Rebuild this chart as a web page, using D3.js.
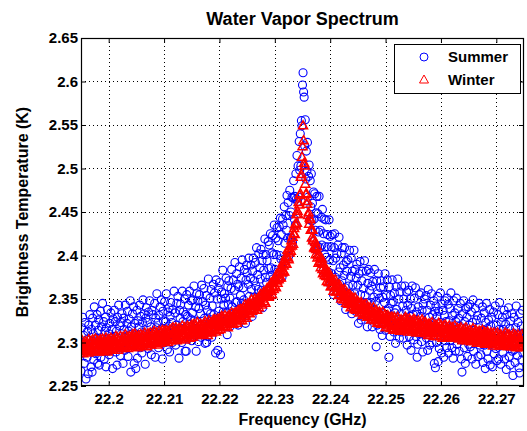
<!DOCTYPE html>
<html>
<head>
<meta charset="utf-8">
<title>Water Vapor Spectrum</title>
<script src="https://d3js.org/d3.v7.min.js"></script>
<style>
    body { margin: 0; background: #fff; }
    #container { width: 527px; height: 431px; }
    text { font-family: 'Liberation Sans', Arial, Helvetica, sans-serif; font-weight: bold; fill: #000; }
</style>
</head>
<body>
<div id="container"></div>
<script>
/* spectrometer channel grid */
const channelStart = 22.195;   // GHz
const channelStep = 0.0001;    // GHz

/* brightness temperature per channel, in mK */
const summerMilliK = [
    2267,2317,2300,2329,2288,2308,2276,2323,2296,2258,2303,2283,2313,2264,2320,2293,2332,2299,2272,2315,
    2266,2328,2310,2280,2341,2298,2320,2287,2305,2332,2276,2314,2326,2274,2304,2336,2283,2318,2300,2345,
    2297,2324,2281,2313,2329,2272,2317,2304,2338,2290,2310,2286,2322,2302,2334,2295,2315,2270,2327,2307,
    2337,2301,2324,2289,2313,2274,2329,2305,2343,2294,2319,2285,2323,2310,2333,2298,2276,2328,2315,2291,
    2343,2305,2294,2322,2336,2284,2313,2327,2301,2348,2266,2318,2310,2333,2298,2341,2276,2322,2305,2270,
    2308,2337,2282,2325,2300,2318,2343,2294,2330,2312,2288,2323,2349,2305,2333,2310,2275,2328,2340,2298,
    2323,2293,2335,2307,2348,2302,2318,2286,2337,2312,2332,2299,2312,2345,2283,2328,2317,2356,2305,2323,
    2294,2331,2311,2341,2303,2349,2316,2281,2336,2325,2310,2347,2300,2324,2356,2314,2292,2335,2319,2340,
    2289,2330,2346,2310,2323,2300,2338,2316,2359,2304,2334,2297,2320,2345,2310,2353,2315,2282,2337,2328,
    2344,2316,2300,2359,2324,2335,2307,2350,2290,2332,2290,2355,2330,2304,2343,2321,2359,2311,2327,2348,
    2302,2334,2349,2316,2365,2325,2309,2341,2290,2356,2324,2348,2301,2339,2355,2315,2333,2306,2366,2321,
    2347,2312,2362,2328,2299,2343,2354,2300,2337,2307,2373,2327,2317,2351,2333,2361,2306,2342,2321,2367,
    2332,2357,2314,2288,2372,2324,2350,2291,2362,2336,2369,2330,2286,2350,2358,2324,2383,2335,2343,2356,
    2322,2351,2374,2334,2309,2364,2344,2371,2329,2351,2319,2362,2384,2341,2334,2372,2325,2360,2392,2346,
    2334,2379,2347,2367,2320,2364,2387,2334,2354,2374,2345,2395,2331,2363,2349,2384,2344,2322,2372,2389,
    2380,2340,2367,2397,2353,2338,2374,2389,2361,2330,2382,2397,2352,2371,2339,2392,2365,2409,2352,2378,
    2361,2402,2344,2386,2373,2407,2360,2394,2340,2401,2383,2358,2419,2375,2401,2369,2394,2354,2416,2385,
    2412,2375,2425,2386,2354,2403,2423,2373,2401,2435,2384,2372,2420,2401,2432,2381,2417,2374,2433,2400,
    2443,2396,2424,2375,2442,2435,2393,2456,2414,2394,2446,2429,2469,2420,2461,2399,2446,2475,2420,2450,
    2420,2467,2415,2466,2486,2442,2468,2435,2494,2465,2515,2462,2503,2467,2531,2498,2540,2503,2555,2549,2596,2610,
    2588,2582,2526,2556,2488,2520,2497,2530,2467,2491,2504,2441,2486,2456,2494,2440,2460,2416,2473,2442,
    2471,2429,2407,2449,2468,2411,2448,2427,2468,2409,2429,2396,2444,2412,2453,2382,2425,2442,2401,2410,
    2441,2398,2378,2424,2410,2381,2441,2395,2422,2366,2410,2379,2424,2394,2355,2409,2425,2375,2397,2363,
    2402,2358,2412,2381,2421,2367,2386,2348,2402,2371,2409,2358,2389,2377,2409,2363,2338,2393,2382,2349,
    2395,2365,2345,2406,2356,2376,2397,2333,2382,2366,2348,2406,2356,2384,2336,2374,2390,2346,2366,2322,
    2379,2338,2393,2355,2326,2371,2382,2346,2362,2330,2394,2354,2339,2382,2346,2318,2368,2384,2332,2360,
    2336,2380,2346,2365,2318,2370,2326,2352,2384,2337,2347,2295,2371,2320,2356,2379,2331,2351,2315,2363,
    2371,2334,2308,2352,2364,2323,2346,2379,2314,2354,2336,2372,2325,2339,2283,2364,2307,2354,2345,2317,
    2372,2325,2347,2312,2357,2334,2299,2364,2338,2318,2373,2327,2350,2305,2358,2333,2312,2365,2323,2342,
    2305,2350,2327,2365,2315,2337,2358,2297,2343,2319,2360,2307,2330,2350,2291,2339,2365,2314,2332,2303,
    2351,2319,2363,2307,2335,2283,2298,2341,2323,2355,2310,2330,2357,2301,2337,2289,2344,2318,2350,2312,
    2320,2354,2305,2337,2291,2361,2309,2329,2297,2343,2320,2356,2300,2332,2313,2348,2276,2336,2271,2342,
    2300,2330,2353,2278,2336,2293,2323,2357,2308,2288,2344,2315,2337,2283,2331,2348,2302,2324,2294,2351,
    2310,2344,2288,2325,2339,2302,2357,2314,2294,2331,2282,2348,2317,2334,2290,2324,2351,2298,2309,2339,
    2328,2290,2319,2345,2303,2281,2266,2333,2308,2348,2294,2324,2276,2339,2312,2329,2284,2341,2298,2320,
    2344,2295,2308,2335,2281,2323,2349,2290,2314,2302,2339,2275,2326,2308,2331,2284,2317,2345,2297,2311,
    2286,2328,2303,2341,2277,2314,2334,2297,2270,2323,2345,2290,2316,2281,2326,2307,2338,2274,2319,2298,
    2329,2272,2300,2335,2287,2310,2342,2293,2320,2279,2304,2332,2281,2315,2346,2296,2275,2323,2307,2329,
    2288,2315,2337,2281,2304,2321,2269,2332,2296,2309,2340,2284,2316,2274,2325,2299,2333,2290,2262,2311,
    2329,2292,2277,2317,2342,2300,2285,2323,2309,2271,2265,2333,2296,2319,2280,2337,2288,2311
];

const winterMilliK = [
    2298,2290,2302,2293,2287,2299,2296,2291,2301,2289,2297,2300,2292,2288,2303,2294,2298,2290,2301,2293,
    2292,2303,2297,2290,2299,2294,2304,2291,2298,2289,2302,2294,2289,2301,2297,2303,2293,2299,2291,2304,
    2296,2290,2302,2299,2292,2305,2294,2301,2289,2298,2303,2296,2292,2301,2305,2294,2298,2291,2303,2295,
    2303,2293,2301,2307,2295,2298,2305,2291,2302,2296,2295,2307,2301,2293,2304,2298,2306,2296,2302,2294,
    2309,2298,2295,2306,2301,2293,2304,2307,2297,2303,2295,2306,2301,2309,2297,2304,2299,2310,2296,2303,
    2307,2297,2305,2294,2308,2300,2303,2296,2309,2299,2307,2296,2305,2308,2299,2311,2302,2298,2306,2295,
    2302,2310,2298,2307,2300,2311,2304,2297,2308,2303,2310,2302,2313,2299,2307,2300,2311,2303,2297,2308,
    2302,2313,2305,2299,2311,2308,2301,2314,2303,2307,2313,2301,2310,2305,2314,2304,2312,2300,2310,2307,
    2314,2306,2302,2315,2310,2304,2317,2307,2312,2303,2312,2317,2306,2302,2314,2310,2304,2316,2308,2315,
    2304,2314,2310,2319,2306,2313,2308,2317,2303,2315,2313,2306,2319,2310,2317,2308,2315,2305,2318,2311,
    2320,2310,2306,2317,2321,2312,2314,2308,2319,2311,2323,2310,2317,2314,2308,2319,2321,2312,2316,2309,
    2319,2309,2321,2314,2324,2312,2317,2311,2322,2308,2315,2325,2320,2312,2322,2317,2311,2323,2314,2326,
    2322,2315,2326,2317,2312,2324,2319,2327,2314,2323,2327,2318,2315,2323,2330,2321,2329,2318,2326,2320,
    2331,2318,2325,2328,2321,2317,2330,2323,2331,2325,2321,2329,2334,2322,2328,2321,2332,2327,2334,2325,
    2334,2327,2322,2332,2337,2327,2332,2325,2338,2328,2337,2325,2335,2339,2332,2330,2343,2332,2338,2328,
    2339,2344,2334,2337,2345,2333,2343,2338,2349,2336,2342,2338,2347,2337,2350,2342,2341,2348,2337,2350,
    2348,2340,2351,2345,2355,2345,2352,2343,2355,2350,2358,2347,2355,2345,2358,2356,2362,2353,2360,2352,
    2362,2354,2362,2368,2359,2355,2368,2364,2361,2372,2365,2371,2363,2378,2371,2368,2378,2372,2382,2374,
    2382,2374,2386,2380,2391,2381,2388,2381,2393,2390,2399,2390,2398,2406,2397,2395,2408,2403,2410,2405,
    2417,2411,2421,2413,2425,2431,2424,2436,2434,2447,2437,2451,2447,2461,2458,2469,2471,2490,2493,2513,2525,2549,
    2532,2506,2503,2482,2470,2471,2459,2462,2446,2449,2436,2443,2441,2429,2430,2420,2429,2417,2419,2409,
    2408,2415,2401,2407,2410,2397,2401,2391,2400,2393,2398,2386,2392,2396,2384,2379,2390,2381,2377,2383,
    2384,2376,2370,2380,2376,2369,2380,2369,2373,2364,2375,2364,2370,2366,2359,2370,2363,2372,2358,2365,
    2358,2367,2359,2354,2362,2366,2355,2358,2350,2360,2353,2360,2349,2356,2361,2349,2352,2345,2357,2347,
    2354,2344,2351,2355,2345,2340,2352,2346,2342,2351,2344,2347,2338,2351,2341,2337,2346,2339,2347,2337,
    2344,2334,2345,2338,2346,2335,2340,2331,2342,2337,2343,2332,2338,2344,2333,2329,2340,2333,2337,2330,
    2340,2330,2326,2337,2333,2327,2340,2329,2334,2325,2332,2337,2326,2322,2333,2329,2323,2335,2326,2333,
    2321,2330,2326,2335,2322,2328,2323,2332,2317,2329,2326,2319,2331,2322,2329,2320,2326,2316,2329,2322,
    2329,2319,2314,2325,2329,2320,2322,2315,2326,2318,2329,2316,2323,2319,2313,2324,2326,2317,2321,2314,
    2325,2315,2327,2319,2329,2317,2322,2316,2326,2312,2317,2327,2322,2314,2324,2318,2312,2324,2315,2327,
    2321,2314,2325,2316,2311,2323,2318,2325,2312,2321,2323,2314,2311,2319,2326,2316,2323,2312,2320,2314,
    2323,2310,2317,2320,2313,2308,2321,2313,2321,2315,2310,2318,2323,2311,2316,2307,2318,2313,2320,2311,
    2319,2312,2307,2317,2322,2310,2315,2307,2320,2310,2317,2305,2315,2319,2311,2307,2320,2309,2315,2305,
    2316,2306,2314,2319,2309,2305,2317,2311,2307,2317,2309,2314,2305,2319,2310,2305,2314,2307,2316,2306,
    2313,2304,2315,2308,2317,2306,2311,2302,2313,2308,2315,2304,2311,2317,2305,2302,2313,2306,2311,2304,
    2314,2305,2301,2312,2309,2303,2316,2306,2311,2302,2309,2314,2303,2299,2311,2307,2301,2313,2305,2312,
    2299,2309,2305,2314,2301,2308,2303,2312,2298,2310,2306,2299,2312,2303,2310,2301,2308,2298,2311,2304,
    2310,2300,2296,2307,2311,2302,2304,2298,2309,2301,2311,2298,2305,2302,2296,2307,2309,2300,2304,2297,
    2306,2296,2308,2301,2311,2299,2304,2298,2309,2295,2299,2309,2304,2296,2306,2301,2295,2307,2298,2310,
    2304,2297,2308,2299,2294,2306,2301,2309,2296,2304,2306,2297,2294,2302,2309,2299,2307,2296
];

const seriesNames = ['Summer', 'Winter'];
const seriesColors = ['#0000ff', '#ff0000'];

const xTicks = [22.2, 22.21, 22.22, 22.23, 22.24, 22.25, 22.26, 22.27];
const yTicks = [2.25, 2.3, 2.35, 2.4, 2.45, 2.5, 2.55, 2.6, 2.65];

class SpectrumChart {
    constructor(options) {
        this._opt = options;
        this.container = document.querySelector('#container');
        this.svg = d3.select(this.container)
            .append('svg')
            .attr('width', options.width)
            .attr('height', options.height)
            .style('background-color', '#fff');

        const m = options.margin;
        this.x = d3.scaleLinear()
            .domain([22.195, 22.275])
            .range([m.left, options.width - m.right]);
        this.y = d3.scaleLinear()
            .domain([2.25, 2.65])
            .range([options.height - m.bottom, m.top]);

        this._drawGrid();
        this._drawSeries();
        this._drawAxes();
        this._drawLegend();
        this._drawLabels();
    }

    _drawGrid() {
        const [x0, x1] = this.x.range();
        const [y0, y1] = this.y.range();
        const grid = this.svg.append('g').attr('class', 'grid')
            .attr('stroke', '#000')
            .attr('stroke-width', 1)
            .attr('stroke-dasharray', '1,3');

        grid.selectAll('.vgrid').data(xTicks).enter().append('line')
            .attr('class', 'vgrid')
            .attr('x1', (d) => Math.round(this.x(d)) + 0.5)
            .attr('x2', (d) => Math.round(this.x(d)) + 0.5)
            .attr('y1', y1)
            .attr('y2', y0);

        grid.selectAll('.hgrid').data(yTicks.slice(1, -1)).enter().append('line')
            .attr('class', 'hgrid')
            .attr('y1', (d) => Math.round(this.y(d)) + 0.5)
            .attr('y2', (d) => Math.round(this.y(d)) + 0.5)
            .attr('x1', x0)
            .attr('x2', x1);
    }

    _drawSeries() {
        const opt = this._opt;
        const [x0, x1] = this.x.range();
        const [y0, y1] = this.y.range();

        this.svg.append('clipPath').attr('id', 'plot-clip')
            .append('rect')
            .attr('x', x0).attr('y', y1)
            .attr('width', x1 - x0).attr('height', y0 - y1);

        const toPoints = (arr) => arr.map((t, i) => ({
            freq: channelStart + i * channelStep,
            temp: t / 1000
        }));

        const plot = this.svg.append('g')
            .attr('class', 'series')
            .attr('clip-path', 'url(#plot-clip)');

        plot.append('g').attr('class', 'summer')
            .selectAll('circle')
            .data(toPoints(summerMilliK))
            .enter().append('circle')
            .attr('cx', (d) => this.x(d.freq))
            .attr('cy', (d) => this.y(d.temp))
            .attr('r', 4)
            .attr('fill', 'none')
            .attr('stroke', seriesColors[0])
            .attr('stroke-width', opt.circleStroke);

        plot.append('g').attr('class', 'winter')
            .selectAll('path')
            .data(toPoints(winterMilliK))
            .enter().append('path')
            .attr('d', opt.triangle)
            .attr('transform', (d) => `translate(${this.x(d.freq)},${this.y(d.temp)})`)
            .attr('fill', 'none')
            .attr('stroke', seriesColors[1])
            .attr('stroke-width', opt.triangleStroke);
    }

    _drawAxes() {
        const opt = this._opt;
        const [x0, x1] = this.x.range();
        const [y0, y1] = this.y.range();
        const fmt = (d) => String(+d.toFixed(2));

        const styleAxis = (g) => {
            g.select('.domain').remove();
            g.attr('font-size', opt.tickFontSize).attr('font-family', null);
            g.selectAll('line').attr('stroke', '#000');
        };

        this.svg.append('g')
            .attr('transform', `translate(0,${y0})`)
            .call(d3.axisBottom(this.x).tickValues(xTicks).tickFormat(fmt)
                .tickSize(-opt.tickLength).tickPadding(7))
            .call(styleAxis);

        this.svg.append('g')
            .attr('transform', `translate(0,${y1})`)
            .call(d3.axisTop(this.x).tickValues(xTicks).tickFormat('')
                .tickSize(-opt.tickLength))
            .call(styleAxis);

        this.svg.append('g')
            .attr('transform', `translate(${x0},0)`)
            .call(d3.axisLeft(this.y).tickValues(yTicks).tickFormat(fmt)
                .tickSize(-opt.tickLength).tickPadding(3))
            .call(styleAxis);

        this.svg.append('g')
            .attr('transform', `translate(${x1},0)`)
            .call(d3.axisRight(this.y).tickValues(yTicks).tickFormat('')
                .tickSize(-opt.tickLength))
            .call(styleAxis);

        this.svg.append('rect')
            .attr('x', x0 + 0.5).attr('y', y1 + 0.5)
            .attr('width', x1 - x0 - 1).attr('height', y0 - y1 - 1)
            .attr('fill', 'none')
            .attr('stroke', '#000')
            .attr('stroke-width', 1.2);
    }

    _drawLegend() {
        const opt = this._opt;
        const lg = opt.legend;
        const legend = this.svg.append('g').attr('class', 'legend')
            .attr('transform', `translate(${lg.x},${lg.y})`);

        legend.append('rect')
            .attr('x', 0.5).attr('y', 0.5)
            .attr('width', lg.width).attr('height', lg.height)
            .attr('fill', '#fff')
            .attr('stroke', '#000')
            .attr('stroke-width', 1);

        const rows = legend.selectAll('.legend-row').data(seriesNames).enter().append('g')
            .attr('class', 'legend-row')
            .attr('transform', (d, i) => `translate(0,${lg.firstRow + i * lg.rowGap})`);

        rows.filter((d, i) => i === 0).append('circle')
            .attr('cx', lg.markerX).attr('cy', 0).attr('r', 4)
            .attr('fill', 'none').attr('stroke', seriesColors[0]).attr('stroke-width', 1);

        rows.filter((d, i) => i === 1).append('path')
            .attr('d', opt.triangle)
            .attr('transform', `translate(${lg.markerX},0)`)
            .attr('fill', 'none').attr('stroke', seriesColors[1]).attr('stroke-width', 1);

        rows.append('text')
            .attr('x', lg.textX)
            .attr('y', 5)
            .attr('font-size', 15)
            .text((d) => d);
    }

    _drawLabels() {
        const opt = this._opt;
        const [x0, x1] = this.x.range();
        const [y0, y1] = this.y.range();

        this.svg.append('text')
            .attr('x', (x0 + x1) / 2)
            .attr('y', 25)
            .attr('text-anchor', 'middle')
            .attr('font-size', 18)
            .text('Water Vapor Spectrum');

        this.svg.append('text')
            .attr('x', (x0 + x1) / 2)
            .attr('y', opt.height - 6)
            .attr('text-anchor', 'middle')
            .attr('font-size', 16)
            .text('Frequency (GHz)');

        this.svg.append('text')
            .attr('transform', `translate(28,${(y0 + y1) / 2}) rotate(-90)`)
            .attr('text-anchor', 'middle')
            .attr('font-size', 16)
            .text('Brightness Temperature (K)');
    }
}

new SpectrumChart({
    width: 527,
    height: 431,
    margin: { top: 38, right: 3, bottom: 45, left: 81 },
    tickLength: 5,
    tickFontSize: 15,
    triangle: 'M0,-5L4.5,3L-4.5,3Z',
    circleStroke: 1.1,
    triangleStroke: 1.5,
    legend: {
        x: 394,
        y: 44,
        width: 126,
        height: 49,
        firstRow: 13,
        rowGap: 23,
        markerX: 30,
        textX: 54
    }
});
</script>
</body>
</html>
